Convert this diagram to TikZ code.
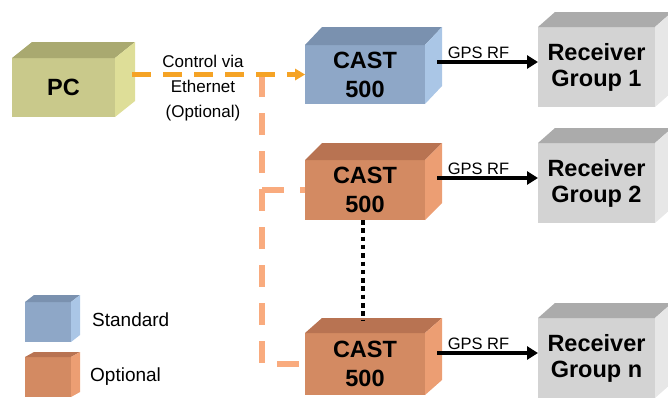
\documentclass[tikz,border=0pt]{standalone}
\usepackage{fontspec}
\setmainfont{Liberation Sans}
\usetikzlibrary{arrows.meta,calc}
\definecolor{pcF}{HTML}{C9C98B}
\definecolor{pcT}{HTML}{A9A970}
\definecolor{pcS}{HTML}{DEDE98}
\definecolor{blF}{HTML}{8EA7C7}
\definecolor{blT}{HTML}{7A91AF}
\definecolor{blS}{HTML}{AAC6E6}
\definecolor{orF}{HTML}{D38A62}
\definecolor{orT}{HTML}{B87352}
\definecolor{orS}{HTML}{EC9E73}
\definecolor{grF}{HTML}{D3D3D3}
\definecolor{grT}{HTML}{ABABAB}
\definecolor{grS}{HTML}{E7E7E7}
\definecolor{ethline}{HTML}{F5A325}
\definecolor{optline}{HTML}{F9AB7E}
\newcommand{\cubebox}[8][]{%
  \node[cubefront, fill=#7F, minimum width=#4pt, minimum height=#5pt, anchor=north west, #1] (#2) at #3 {#8};
  \fill[#7T] (#2.north west) -- ++(#6) -- ([shift={(#6)}]#2.north east) -- (#2.north east) -- cycle;
  \fill[#7S] (#2.north east) -- ++(#6) -- ([shift={(#6)}]#2.south east) -- (#2.south east) -- cycle;
}
\tikzset{
  cubefront/.style={inner sep=0pt, outer sep=0pt, align=center, font=\bfseries\fontsize{23.5}{29}\selectfont},
  recv/.style={font=\bfseries\fontsize{23.5}{26}\selectfont},
  ethdash/.style={draw=ethline, line width=5pt, dash pattern=on 19pt off 12pt},
  optdash/.style={draw=optline, line width=5.5pt, dash pattern=on 22pt off 16pt},
  gps/.style={draw=black, line width=4.5pt, -{Triangle[length=11pt,width=13pt]}},
  gpslbl/.style={font=\fontsize{16.5}{18}\selectfont, inner sep=0pt, anchor=base, yshift=4pt, xshift=-9pt},
  dotline/.style={draw=black, line width=4.5pt, dash pattern=on 4.5pt off 3.8pt},
  legtxt/.style={font=\fontsize{19}{22}\selectfont, anchor=west, inner sep=0pt}
}
\begin{document}
\begin{tikzpicture}[x=1pt,y=-1pt]
\useasboundingbox (0,0) rectangle (668,397);
\clip (0,0) rectangle (668,397);
% boxes
\cubebox{pc}{(12,58)}{103}{59}{20,-16}{pc}{PC}
\cubebox{c1}{(305,45)}{120}{59}{17,-18}{bl}{CAST\\500}
\cubebox{c2}{(305,160)}{120}{60}{17,-17}{or}{CAST\\500}
\cubebox{c3}{(305,333)}{120}{62}{17,-15}{or}{CAST\\500}
\cubebox[recv]{r1}{(538,27)}{117}{80}{17,-15}{gr}{Receiver\\Group 1}
\cubebox[recv]{r2}{(538,143)}{117}{80}{17,-15}{gr}{Receiver\\Group 2}
\cubebox[recv]{r3}{(538,318)}{117}{80}{17,-15}{gr}{Receiver\\Group n}
\cubebox{ls}{(25,302)}{46}{40}{9,-7}{bl}{}
\cubebox{lo}{(25,357)}{46}{40}{9,-5}{or}{}
% legend texts
\node[legtxt] (lst) at (92,320) {Standard};
\node[legtxt] (lot) at (90,377) {Optional};
% ethernet control
\coordinate (pcout) at ([xshift=17pt]pc.east |- c1.west);
\coordinate (junc) at (262,75);
\draw[optdash] (junc) -- (junc |- c3.west) -- (c3.west);
\draw[optdash] (junc |- c2.west) -- (c2.west);
\draw[ethdash] (pcout) -- ([xshift=-9pt]c1.west);
\fill[ethline] (c1.west) -- ++(-10,-6) -- ++(0,12) -- cycle;
\node[align=center, font=\fontsize{17}{25}\selectfont, inner sep=0pt] (eth) at (203,88) {Control via\\Ethernet\\(Optional)};
% GPS RF arrows
\coordinate (g1) at ([xshift=12pt,yshift=-17pt]c1.north east);
\coordinate (g2) at ([xshift=12pt,yshift=-18pt]c2.north east);
\coordinate (g3) at ([xshift=12pt,yshift=-20pt]c3.north east);
\draw[gps] (g1) -- (g1 -| r1.west) node[midway, gpslbl] (t1) {GPS RF};
\draw[gps] (g2) -- (g2 -| r2.west) node[midway, gpslbl] (t2) {GPS RF};
\draw[gps] (g3) -- (g3 -| r3.west) node[midway, gpslbl] (t3) {GPS RF};
% dotted continuation
\draw[dotline] ([xshift=-2pt]c2.south) -- ([xshift=-2pt,yshift=12pt]c3.north);
\end{tikzpicture}
\end{document}
